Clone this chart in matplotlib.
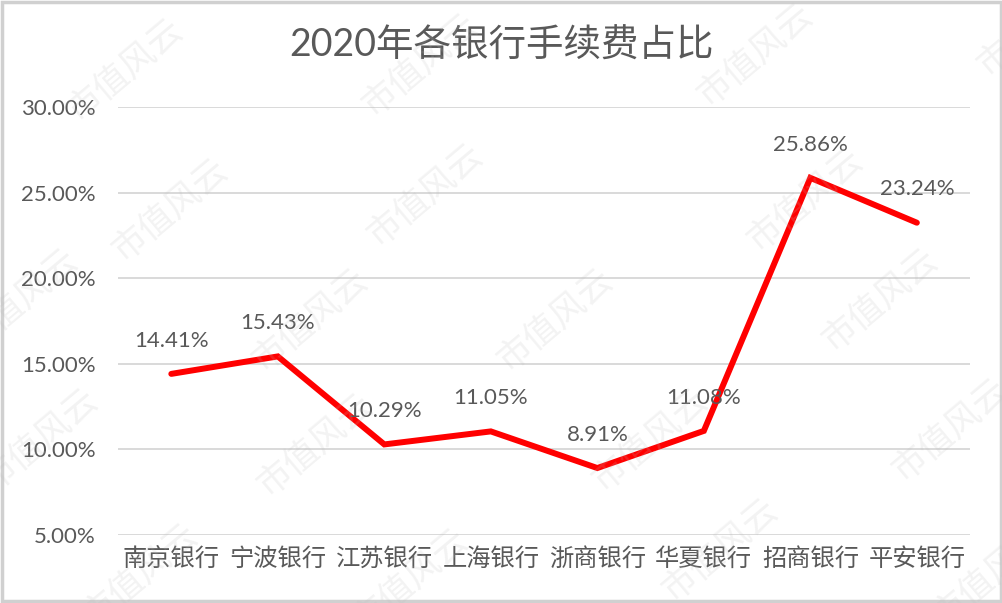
import matplotlib
matplotlib.use('Agg')
import matplotlib.pyplot as plt
from matplotlib.patches import Rectangle

plt.rcParams['font.family'] = ['Lato', 'Noto Sans CJK SC', 'DejaVu Sans']

# 数据
banks = ['南京银行', '宁波银行', '江苏银行', '上海银行', '浙商银行', '华夏银行', '招商银行', '平安银行']
fee_ratio = [14.41, 15.43, 10.29, 11.05, 8.91, 11.08, 25.86, 23.24]
y_ticks = [5, 10, 15, 20, 25, 30]

text_color = '#595959'
grid_color = '#D9D9D9'

fig = plt.figure(figsize=(10.03, 6.03), dpi=100)
ax = fig.add_axes([0.1177, 0.1128, 0.8495, 0.7098])
ax.patch.set_alpha(0)

x = range(len(banks))
ax.plot(x, fee_ratio, color='#FF0000', linewidth=4.3, solid_capstyle='round',
        solid_joinstyle='miter', zorder=3)

for i, v in enumerate(fee_ratio):
    ax.annotate(f'{v:.2f}%', (i, v), xytext=(0, 24), textcoords='offset points',
                ha='center', va='center', fontsize=16, color=text_color, zorder=4)

ax.set_xlim(-0.5, len(banks) - 0.5)
ax.set_ylim(5, 30)
ax.set_yticks(y_ticks)
ax.set_yticklabels([f'{t:.2f}%' for t in y_ticks], fontsize=16, color=text_color)
ax.set_xticks(list(x))
ax.set_xticklabels(banks, fontsize=17.5, color=text_color, family=['Noto Sans CJK SC'])
ax.tick_params(axis='y', length=0, pad=16)
ax.tick_params(axis='x', length=0, pad=8)
ax.grid(axis='y', color=grid_color, linewidth=1.4)
ax.set_axisbelow(True)
for s in ax.spines.values():
    s.set_visible(False)

fig.text(0.5, 0.925, '2020年各银行手续费占比', ha='center', va='center',
         fontsize=27, color=text_color)

# 水印
marks = [(125, 70), (420, 65), (755, 55), (1035, 25),
         (170, 210), (425, 195), (805, 200),
         (20, 300), (310, 320), (555, 320), (880, 300),
         (40, 440), (315, 445), (650, 440), (950, 430),
         (140, 575), (410, 580), (720, 550), (990, 575)]
for px, py in marks:
    fig.text(px / 1003, 1 - py / 603, '市值风云', ha='center', va='center',
             fontsize=25, color='#BBBBBB', alpha=0.18, rotation=40,
             family=['Noto Sans CJK SC'], fontweight='light', zorder=5)

fig.patches.append(Rectangle((0.0015, 0.0025), 0.997, 0.995, transform=fig.transFigure,
                             fill=False, edgecolor='#D0D0D0', linewidth=2.5))

fig.savefig('out.png', dpi=100, facecolor='white')
